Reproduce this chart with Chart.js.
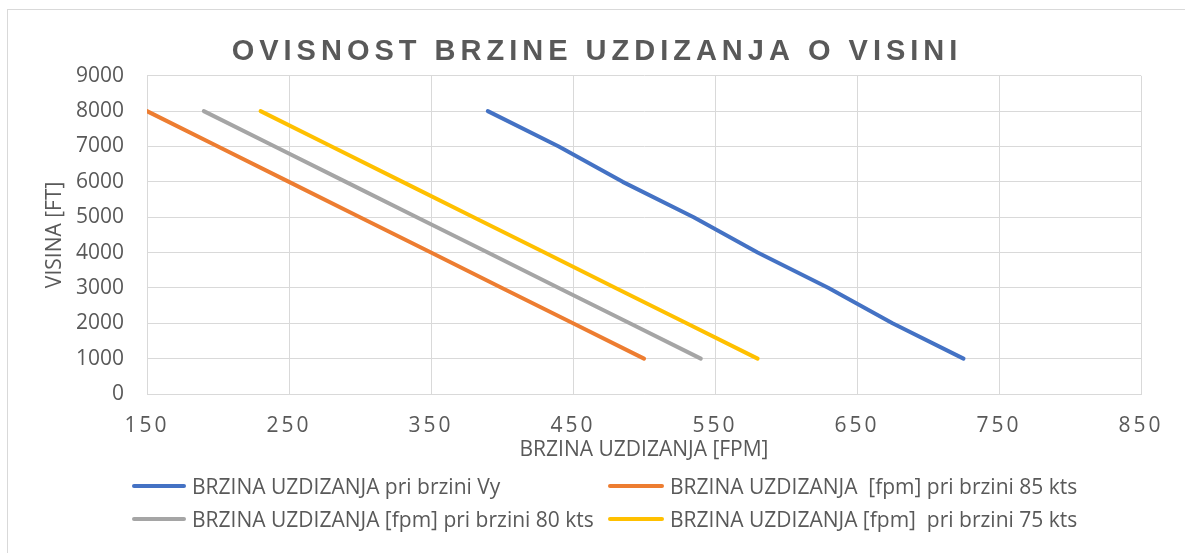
<!DOCTYPE html>
<html>
<head>
<meta charset="utf-8">
<script src="https://cdn.jsdelivr.net/npm/chart.js@4.4.1/dist/chart.umd.min.js"></script>
<style>
  html, body { margin: 0; padding: 0; background: #fff; overflow: hidden; }
  #wrap { position: relative; width: 1185px; height: 553px; }
  #frame { position: absolute; left: 7px; top: 9px; width: 1200px; height: 560px; border: 1px solid #d9d9d9; box-sizing: border-box; }
  #myChart { position: absolute; left: 0; top: 0; }
  .leg { position: absolute; height: 26px; display: flex; align-items: center; font-family: "Open Sans"; font-size: 21px; color: #595959; white-space: pre; }
  .leg span.ln { display: inline-block; height: 4px; border-radius: 2px; margin-right: 6px; }
</style>
</head>
<body>
<div id="wrap">
  <div id="frame"></div>
  <canvas id="myChart" width="1185" height="553"></canvas>
  <div id="legend"></div>
</div>
<script>
// visina [ft]
const altitude = [1000, 2000, 3000, 4000, 5000, 6000, 7000, 8000];
// brzina uzdizanja [fpm]
const rateVy = [725, 675, 630, 580, 535, 485, 440, 390];
const rate85 = [500, 450, 400, 350, 300, 250, 200, 150];
const rate80 = [540, 490, 440, 390, 340, 290, 240, 190];
const rate75 = [580, 530, 480, 430, 380, 330, 280, 230];

const seriesNames = [
  "BRZINA UZDIZANJA pri brzini Vy",
  "BRZINA UZDIZANJA  [fpm] pri brzini 85 kts",
  "BRZINA UZDIZANJA [fpm] pri brzini 80 kts",
  "BRZINA UZDIZANJA [fpm]  pri brzini 75 kts"
];
const xTicks = [150, 250, 350, 450, 550, 650, 750, 850];
const yTicks = [0, 1000, 2000, 3000, 4000, 5000, 6000, 7000, 8000, 9000];

const COLORS = {
  blue: '#4472C4',
  orange: '#ED7D31',
  grey: '#A5A5A5',
  yellow: '#FFC000'
};

function pts(xs) {
  return xs.map((x, i) => ({ x: x, y: altitude[i] }));
}

function makeSet(label, xs, color) {
  return {
    label: label,
    data: pts(xs),
    showLine: true,
    borderColor: color,
    backgroundColor: color,
    borderWidth: 4,
    borderCapStyle: 'round',
    borderJoinStyle: 'round',
    pointRadius: 0,
    tension: 0
  };
}

const data = {
  datasets: [
    makeSet(seriesNames[0], rateVy, COLORS.blue),
    makeSet(seriesNames[1], rate85, COLORS.orange),
    makeSet(seriesNames[2], rate80, COLORS.grey),
    makeSet(seriesNames[3], rate75, COLORS.yellow)
  ]
};

// canvas letterSpacing for title and x tick labels
function patchSpacing(obj, fn, sp) {
  if (!obj || obj['_sp_' + fn]) return;
  const orig = obj[fn];
  obj[fn] = function () {
    const ctx = this.ctx;
    ctx.save();
    ctx.letterSpacing = sp;
    orig.apply(this, arguments);
    ctx.restore();
  };
  obj['_sp_' + fn] = true;
}
const spacingPlugin = {
  id: 'spacing',
  beforeDraw(chart) {
    patchSpacing(chart.titleBlock, 'draw', '5px');
    patchSpacing(chart.scales.x, 'drawLabels', '3px');
  }
};

Chart.defaults.font.family = '"Open Sans", sans-serif';
Chart.defaults.color = '#595959';

const plain = v => String(v);

const config = {
  type: 'scatter',
  data: data,
  plugins: [spacingPlugin],
  options: {
    responsive: false,
    animation: false,
    layout: { padding: { left: 53, right: 44, top: 0, bottom: 79 } },
    plugins: {
      legend: { display: false },
      tooltip: { enabled: false },
      title: {
        display: true,
        text: 'OVISNOST BRZINE UZDIZANJA O VISINI',
        color: '#595959',
        font: { family: '"Liberation Sans", Arial, sans-serif', size: 29, weight: 'bold', lineHeight: 1.2 },
        padding: { top: 35, bottom: 6 }
      }
    },
    scales: {
      x: {
        type: 'linear',
        min: 150,
        max: 850,
        afterBuildTicks(scale) { scale.ticks = xTicks.map(v => ({ value: v })); },
        afterFit(scale) { scale.height = 80; },
        grid: { color: '#d9d9d9', drawTicks: false },
        border: { color: '#d9d9d9' },
        ticks: { padding: 19, font: { size: 21 }, color: '#595959', callback: plain },
        title: {
          display: true,
          text: 'BRZINA UZDIZANJA [FPM]',
          font: { size: 21 },
          color: '#595959',
          padding: { top: 0, bottom: 11 }
        }
      },
      y: {
        type: 'linear',
        min: 0,
        max: 9000,
        afterBuildTicks(scale) { scale.ticks = yTicks.map(v => ({ value: v })); },
        afterFit(scale) { scale.width = 94; },
        grid: { color: '#d9d9d9', drawTicks: false },
        border: { color: '#d9d9d9' },
        ticks: { padding: 23, font: { size: 21 }, color: '#595959', callback: plain },
        title: {
          display: true,
          text: 'VISINA [FT]',
          font: { size: 21 },
          color: '#595959',
          padding: { top: -11, bottom: 0 }
        }
      }
    }
  }
};

const myChart = new Chart(document.getElementById('myChart'), config);

// legend in two fixed columns, like the original
const legendPos = [
  { x: 132, y: 486, w: 54 },
  { x: 608, y: 486, w: 56 },
  { x: 132, y: 519, w: 54 },
  { x: 608, y: 519, w: 56 }
];
const legend = document.getElementById('legend');
myChart.data.datasets.forEach((ds, i) => {
  const p = legendPos[i];
  const item = document.createElement('div');
  item.className = 'leg';
  item.style.left = p.x + 'px';
  item.style.top = (p.y - 13) + 'px';
  const ln = document.createElement('span');
  ln.className = 'ln';
  ln.style.width = p.w + 'px';
  ln.style.background = ds.borderColor;
  item.appendChild(ln);
  item.appendChild(document.createTextNode(ds.label));
  legend.appendChild(item);
});
</script>
</body>
</html>
